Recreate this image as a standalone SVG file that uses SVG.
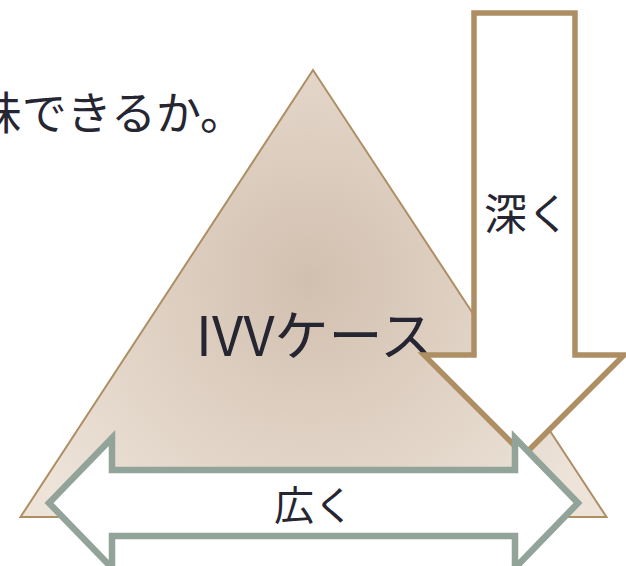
<svg xmlns="http://www.w3.org/2000/svg" width="626" height="566" viewBox="0 0 626 566">
  <style>
    .jp { font-family: "Noto Sans CJK JP", "Noto Sans", sans-serif; fill: #262633; }
    .brown { fill: #ffffff; stroke: #ae8f64; stroke-width: 5.5; }
    .grey { fill: #ffffff; stroke: #92a399; stroke-width: 6.5; }
  </style>
  <defs>
    <radialGradient id="triFill" gradientUnits="userSpaceOnUse" cx="310" cy="280" r="330">
      <stop offset="0" stop-color="#d2c0af"/>
      <stop offset="1" stop-color="#ede3d9"/>
    </radialGradient>
  </defs>
  <rect width="626" height="566" fill="#ffffff"/>
  <g id="title">
    <text class="jp" x="245" y="130" font-size="45" text-anchor="end">味できるか。</text>
  </g>
  <g id="triangle">
    <polygon points="313,70 20.5,517 606.5,517" fill="url(#triFill)" stroke="#ae8f64" stroke-width="2"/>
    <text class="jp" x="315" y="356" font-size="54" text-anchor="middle">IVVケース</text>
  </g>
  <g id="connectors">
    <g id="deep-arrow">
      <path class="brown" d="M474,13 L575,13 L575,355 L624,355 L524,455 L424,355 L474,355 Z"/>
      <text class="jp" x="527" y="230" font-size="43" text-anchor="middle">深く</text>
    </g>
    <g id="wide-arrow">
      <path class="grey" d="M49,503 L112,438 L112,470 L515,470 L515,438 L578,503 L515,568 L515,536 L112,536 L112,568 Z"/>
      <text class="jp" x="314" y="520" font-size="40" text-anchor="middle">広く</text>
    </g>
  </g>
</svg>
